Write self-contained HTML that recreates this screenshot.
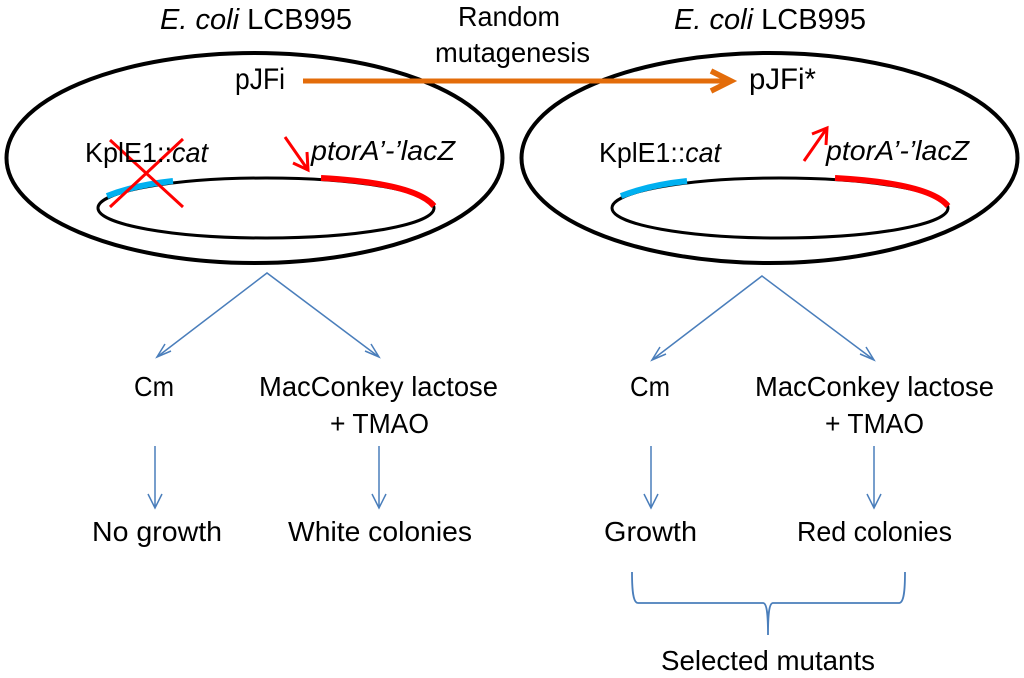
<!DOCTYPE html>
<html><head><meta charset="utf-8"><style>
html,body{margin:0;padding:0;background:#fff;width:1024px;height:678px;overflow:hidden}
svg{display:block}
text{font-family:"Liberation Sans",sans-serif;fill:#000;font-size:28px}
.i{font-style:italic}
</style></head><body>
<svg width="1024" height="678" viewBox="0 0 1024 678" xmlns="http://www.w3.org/2000/svg">
<g fill="none" stroke="#000">
<ellipse cx="254.5" cy="158" rx="248" ry="105" stroke-width="4"/>
<ellipse cx="769.5" cy="158" rx="248" ry="105" stroke-width="4"/>
<ellipse cx="266" cy="208" rx="168" ry="30" stroke-width="3"/>
<ellipse cx="780" cy="208" rx="168" ry="30" stroke-width="3"/>
</g>
<g fill="none" stroke-width="6">
<path d="M107 196Q135 185 173 181" stroke="#00b0f0"/>
<path d="M621 196Q649 185 687 181" stroke="#00b0f0"/>
<path d="M321 178C375 181 420 189 434 206" stroke="#ff0000"/>
<path d="M835 178C889 181 934 189 948 206" stroke="#ff0000"/>
</g>
<g fill="none" stroke="#e36c0a" stroke-width="5">
<path d="M303 81H729"/>
<path d="M711 71L731 81L711 91" stroke-width="5.5"/>
</g>
<g fill="none" stroke="#ff0000" stroke-width="3">
<path d="M110 140L183 207M183 139L110 207"/>
<path d="M285 137L308 170M293 163L308 170L307 152"/>
<path d="M804 161L827 128M812 134L827 128L826 145"/>
</g>
<g fill="none" stroke="#4a7ebb" stroke-width="1.5">
<path d="M157 357L267 273L379 357"/>
<path d="M171 351L157 357L165 344M365 351L379 357L371 344"/>
<path d="M652 360L762 276L874 360"/>
<path d="M666 354L652 360L660 347M860 354L874 360L866 347"/>
<path d="M155 446V508M148 494L155 508L162 494"/>
<path d="M379 446V508M372 494L379 508L386 494"/>
<path d="M651 446V508M644 494L651 508L658 494"/>
<path d="M874 446V508M867 494L874 508L881 494"/>
<path d="M632 572C632 590 633 603 638 603H763C767 603 768 615 768 635C768 615 769 603 773 603H899C904 603 905 590 905 572" stroke-width="1.8"/>
</g>
<text x="160" y="29" style="font-size:29px" textLength="192" lengthAdjust="spacingAndGlyphs"><tspan class="i">E. coli</tspan> LCB995</text>
<text x="674" y="29" style="font-size:29px" textLength="192" lengthAdjust="spacingAndGlyphs"><tspan class="i">E. coli</tspan> LCB995</text>
<text x="458" y="26" textLength="102" lengthAdjust="spacingAndGlyphs">Random</text>
<text x="435" y="62" textLength="155" lengthAdjust="spacingAndGlyphs">mutagenesis</text>
<text x="235" y="89" style="font-size:30px" textLength="50" lengthAdjust="spacingAndGlyphs">pJFi</text>
<text x="749" y="89" style="font-size:30px" textLength="67" lengthAdjust="spacingAndGlyphs">pJFi*</text>
<text x="85" y="162" textLength="123" lengthAdjust="spacingAndGlyphs">KplE1::<tspan class="i">cat</tspan></text>
<text x="599" y="162" textLength="122" lengthAdjust="spacingAndGlyphs">KplE1::<tspan class="i">cat</tspan></text>
<text x="311" y="160" class="i" textLength="144" lengthAdjust="spacingAndGlyphs">ptorA’-’lacZ</text>
<text x="826" y="160" class="i" textLength="143" lengthAdjust="spacingAndGlyphs">ptorA’-’lacZ</text>
<text x="134" y="396" textLength="40" lengthAdjust="spacingAndGlyphs">Cm</text>
<text x="259" y="396" textLength="239" lengthAdjust="spacingAndGlyphs">MacConkey lactose</text>
<text x="330" y="433" textLength="99" lengthAdjust="spacingAndGlyphs">+ TMAO</text>
<text x="630" y="396" textLength="40" lengthAdjust="spacingAndGlyphs">Cm</text>
<text x="755" y="396" textLength="239" lengthAdjust="spacingAndGlyphs">MacConkey lactose</text>
<text x="825" y="433" textLength="99" lengthAdjust="spacingAndGlyphs">+ TMAO</text>
<text x="92" y="541" textLength="130" lengthAdjust="spacingAndGlyphs">No growth</text>
<text x="288" y="541" textLength="184" lengthAdjust="spacingAndGlyphs">White colonies</text>
<text x="604" y="541" textLength="93" lengthAdjust="spacingAndGlyphs">Growth</text>
<text x="797" y="541" textLength="155" lengthAdjust="spacingAndGlyphs">Red colonies</text>
<text x="661" y="670" textLength="214" lengthAdjust="spacingAndGlyphs">Selected mutants</text>
</svg>
</body></html>
